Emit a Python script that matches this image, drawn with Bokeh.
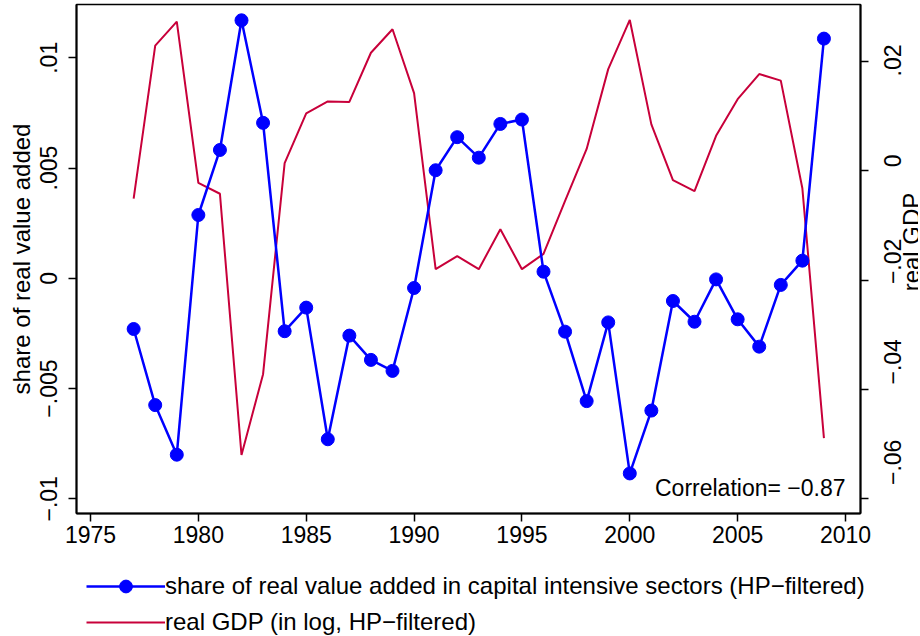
import math
from bokeh.plotting import figure
from bokeh.layouts import row, column
from bokeh.models import Range1d, LinearAxis, FixedTicker, Legend, LegendItem, Label
from bokeh.core.properties import value
from bokeh.embed import file_html
from bokeh.resources import INLINE

# ---- data ----
years = list(range(1977, 2010))
share = [-0.0023, -0.00575, -0.0080, 0.00287, 0.00582, 0.0117, 0.00705, -0.0024,
         -0.00133, -0.0073, -0.0026, -0.0037, -0.0042, -0.00044, 0.0049, 0.0064,
         0.00547, 0.0070, 0.0072, 0.0003, -0.00242, -0.00557, -0.0020, -0.00885,
         -0.0060, -0.00103, -0.00197, -0.00005, -0.00186, -0.0031, -0.0003, 0.0008,
         0.01087]
gdp = [-0.0051, 0.0229, 0.0273, -0.0022, -0.0042, -0.0520, -0.0372, 0.0014,
       0.0105, 0.0127, 0.0126, 0.0216, 0.0259, 0.0142, -0.0180, -0.0156,
       -0.0180, -0.0107, -0.0180, -0.0152, -0.0055, 0.0040, 0.0186, 0.0276,
       0.0085, -0.0017, -0.0037, 0.0064, 0.0131, 0.0177, 0.0165, -0.0032,
       -0.0489]

x_ticks = [1975, 1980, 1985, 1990, 1995, 2000, 2005, 2010]
x_labels = ["1975", "1980", "1985", "1990", "1995", "2000", "2005", "2010"]
left_ticks = [-0.01, -0.005, 0.0, 0.005, 0.01]
left_labels = ["\u2212.01", "\u2212.005", "0", ".005", ".01"]
right_ticks = [-0.06, -0.04, -0.02, 0.0, 0.02]
right_labels = ["\u2212.06", "\u2212.04", "\u2212.02", "0", ".02"]

share_name = "share of real value added in capital intensive sectors (HP\u2212filtered)"
gdp_name = "real GDP (in log, HP\u2212filtered)"
left_title = "share of real value added"
right_title = "real GDP"
corr_text = "Correlation= \u22120.87"

BLUE = "#0000FF"
RED = "#C8003A"
FONT = "Liberation Sans"

# ranges (chosen so the frame spans the same pixels as the reference)
X_LO, X_HI = 1974.351, 2010.695
L_LO, L_HI = -0.010667, 0.012417
G_LO, G_HI = -0.062697, 0.030424
G_PX = 5466.0            # pixels per unit on the GDP axis
FRAME_TOP, FRAME_BOTTOM = 4, 513
H_MAIN = 554
W_MAIN = 876
W_SIDE = 42
H_LEG = 81

# ---------------- main plot ----------------
p = figure(width=W_MAIN, height=H_MAIN,
           x_range=Range1d(X_LO, X_HI), y_range=Range1d(L_LO, L_HI),
           output_backend="svg", toolbar_location=None,
           min_border_left=76, min_border_right=W_MAIN - 860,
           min_border_top=FRAME_TOP, min_border_bottom=H_MAIN - FRAME_BOTTOM)
p.extra_y_ranges = {"gdp": Range1d(G_LO, G_HI)}
p.xgrid.visible = False
p.ygrid.visible = False
p.background_fill_color = "white"
p.border_fill_color = "white"
p.outline_line_color = "black"
p.outline_line_width = 1.5

p.line(years, gdp, color=RED, line_width=2, y_range_name="gdp")
p.line(years, share, color=BLUE, line_width=2.5)
p.scatter(years, share, size=13, color=BLUE)


def style_axis(ax, ticks, labels):
    ax.ticker = FixedTicker(ticks=ticks)
    ax.major_label_overrides = {t: l for t, l in zip(ticks, labels)}
    ax.minor_tick_line_color = None
    ax.major_tick_out = 8
    ax.major_tick_in = 0
    ax.major_tick_line_width = 1.5
    ax.major_tick_line_color = "black"
    ax.axis_line_color = "black"
    ax.axis_line_width = 2
    ax.major_label_text_font = FONT
    ax.major_label_text_font_size = "23px"
    ax.major_label_text_color = "black"
    ax.axis_label_text_font = FONT
    ax.axis_label_text_font_size = "24px"
    ax.axis_label_text_font_style = "normal"
    ax.axis_label_text_color = "black"


xa = p.xaxis[0]
style_axis(xa, x_ticks, x_labels)
xa.major_label_standoff = 4

ya = p.yaxis[0]
style_axis(ya, left_ticks, left_labels)
ya.major_label_orientation = "vertical"
ya.axis_label = left_title
ya.major_label_standoff = 11
ya.axis_label_standoff = 3

# right axis: tick marks here; its labels are drawn in the side strip
yr = LinearAxis(y_range_name="gdp")
style_axis(yr, right_ticks, [" "] * len(right_ticks))
yr.major_label_text_alpha = 0
yr.major_label_standoff = 0
p.add_layout(yr, "right")

p.add_layout(Label(x=2010, y=-0.0095, text=corr_text, text_align="right",
                   text_baseline="alphabetic", text_font=FONT,
                   text_font_size="23px", text_color="black"))

# ---------------- side strip: right-axis labels, reading bottom-to-top ----------------
S_LO = G_LO - (H_MAIN - FRAME_BOTTOM) / G_PX
S_HI = G_HI + FRAME_TOP / G_PX
side = figure(width=W_SIDE, height=H_MAIN, x_range=Range1d(0, W_SIDE),
              y_range=Range1d(S_LO, S_HI), output_backend="svg",
              toolbar_location=None, min_border=0,
              x_axis_type=None, y_axis_type=None)
side.xgrid.visible = False
side.ygrid.visible = False
side.outline_line_color = None
side.background_fill_color = "white"
side.border_fill_color = "white"
side.text(x=[16] * len(right_ticks), y=right_ticks, text=right_labels,
          angle=math.pi / 2, text_align="center", text_baseline="alphabetic",
          text_font=value(FONT), text_font_size="23px", text_color="black")
side.text(x=[35], y=[(G_LO + G_HI) / 2], text=[right_title],
          angle=math.pi / 2, text_align="center", text_baseline="alphabetic",
          text_font=value(FONT), text_font_size="24px", text_color="black")

# ---------------- legend strip ----------------
# the key renderers reuse the series; their x values lie outside this strip's
# range, so only the legend keys are visible
leg = figure(width=W_MAIN + W_SIDE, height=H_LEG,
             x_range=Range1d(0, W_MAIN + W_SIDE), y_range=Range1d(0, H_LEG),
             output_backend="svg", toolbar_location=None, min_border=0,
             x_axis_type=None, y_axis_type=None)
leg.xgrid.visible = False
leg.ygrid.visible = False
leg.outline_line_color = None
leg.background_fill_color = "white"
leg.border_fill_color = "white"
k_line_b = leg.line(years, share, color=BLUE, line_width=2.5)
k_mark_b = leg.scatter(years, share, size=13, color=BLUE)
k_line_r = leg.line(years, gdp, color=RED, line_width=2)

legend = Legend(items=[LegendItem(label=share_name, renderers=[k_line_b, k_mark_b]),
                       LegendItem(label=gdp_name, renderers=[k_line_r])],
                location=(86, -3), orientation="vertical",
                glyph_width=79, glyph_height=32, spacing=4, padding=0, margin=0,
                label_standoff=0, label_text_font=FONT, label_text_font_size="24px",
                label_text_color="black", border_line_color=None,
                background_fill_alpha=0)
leg.add_layout(legend, "center")

layout = column(row(p, side, spacing=0), leg, spacing=0)
open("out.html", "w").write(file_html(layout, INLINE))
